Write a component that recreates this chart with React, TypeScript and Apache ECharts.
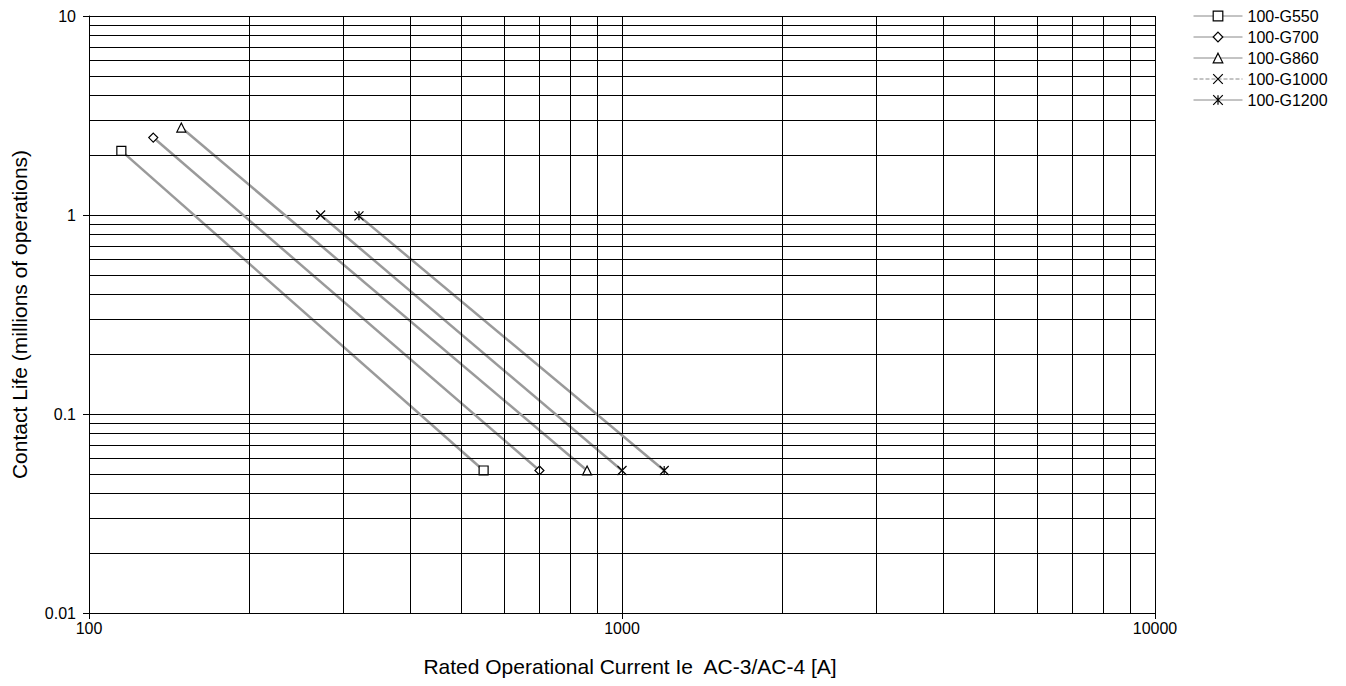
import React, { useEffect, useRef } from "react";
import * as echarts from "echarts";

const seriesNames = ["100-G550", "100-G700", "100-G860", "100-G1000", "100-G1200"];
const g550: [number, number][] = [[115, 2.1], [550, 0.052]];
const g700: [number, number][] = [[132, 2.45], [700, 0.052]];
const g860: [number, number][] = [[149, 2.75], [860, 0.052]];
const g1000: [number, number][] = [[272, 1.0], [1000, 0.052]];
const g1200: [number, number][] = [[321, 0.99], [1200, 0.052]];
const seriesData = [g550, g700, g860, g1000, g1200];
const symbols = [
  "rect",
  "diamond",
  "triangle",
  "path://M0,0L10,10M0,10L10,0",
  "path://M0,0L10,10M0,10L10,0M5,0L5,10",
];
const xMinorGrid = [200, 300, 400, 500, 600, 700, 800, 900, 2000, 3000, 4000, 5000, 6000, 7000, 8000, 9000];
const yMinorGrid = [0.02, 0.03, 0.04, 0.05, 0.06, 0.07, 0.08, 0.09, 0.2, 0.3, 0.4, 0.5, 0.6, 0.7, 0.8, 0.9, 2, 3, 4, 5, 6, 7, 8, 9];

const FONT = "'Liberation Sans', Arial, Helvetica, sans-serif";

export default function App() {
  const ref = useRef<HTMLDivElement>(null);
  useEffect(() => {
    if (!ref.current) return;
    const chart = echarts.init(ref.current, undefined, { renderer: "svg" });
    const fmt = (v: number) => String(+(+v).toPrecision(3));
    chart.setOption({
      animation: false,
      backgroundColor: "#fff",
      textStyle: { fontFamily: FONT },
      grid: { left: 89, right: 191, top: 16, bottom: 73, containLabel: false },
      legend: {
        orient: "vertical",
        left: 1188,
        top: 3,
        itemWidth: 49,
        itemHeight: 12,
        itemGap: 5,
        textStyle: { fontSize: 16, color: "#000", fontFamily: FONT },
        data: seriesNames.map((n, i) => ({
          name: n,
          lineStyle: { color: "#888", width: 1, type: i === 3 ? "dashed" : "solid" },
          itemStyle: { color: "#fff", borderColor: "#000", borderWidth: 1.2 },
        })),
      },
      xAxis: {
        type: "log",
        logBase: 10,
        min: 100,
        max: 10000,
        name: "Rated Operational Current Ie  AC-3/AC-4 [A]",
        nameLocation: "middle",
        nameGap: 43,
        nameTextStyle: { fontSize: 21, color: "#000", fontFamily: FONT, padding: [0, 0, 0, 16] },
        axisLine: { show: true, lineStyle: { color: "#000", width: 1 } },
        axisTick: { show: true, length: 6, lineStyle: { color: "#000" } },
        axisLabel: { fontSize: 16, color: "#000", margin: 7, formatter: fmt, fontFamily: FONT },
        splitLine: { show: true, lineStyle: { color: "#000", width: 1 } },
        minorTick: { show: false },
        minorSplitLine: { show: false },
      },
      yAxis: {
        type: "log",
        logBase: 10,
        min: 0.01,
        max: 10,
        name: "Contact Life (millions of operations)",
        nameLocation: "middle",
        nameGap: 59,
        nameTextStyle: { fontSize: 21, color: "#000", fontFamily: FONT },
        axisLine: { show: true, lineStyle: { color: "#000", width: 1 } },
        axisTick: { show: true, length: 6, lineStyle: { color: "#000" } },
        axisLabel: { fontSize: 16, color: "#000", margin: 13, formatter: fmt, fontFamily: FONT },
        splitLine: { show: true, lineStyle: { color: "#000", width: 1 } },
      },
      series: [
        {
          name: "grid",
          type: "line",
          data: [],
          z: 1,
          silent: true,
          markLine: {
            silent: true,
            symbol: ["none", "none"],
            label: { show: false },
            lineStyle: { color: "#000", width: 1, type: "solid" },
            emphasis: { disabled: true },
            data: [
              ...xMinorGrid.map((v) => ({ xAxis: v })),
              ...yMinorGrid.map((v) => ({ yAxis: v })),
            ],
          },
        },
        ...seriesNames.map((n, i) => ({
          name: n,
          type: "line",
          z: 3,
          data: seriesData[i],
          symbol: symbols[i],
          symbolSize: 9,
          showAllSymbol: true,
          lineStyle: { color: "#9a9a9a", width: 2.5 },
          itemStyle: { color: "#fff", borderColor: "#000", borderWidth: 1.2 },
          emphasis: { disabled: true },
        })),
      ],
    });
    return () => chart.dispose();
  }, []);
  return (
    <div
      ref={ref}
      style={{ position: "absolute", left: 0, top: 0, width: 1346, height: 686 }}
    />
  );
}
